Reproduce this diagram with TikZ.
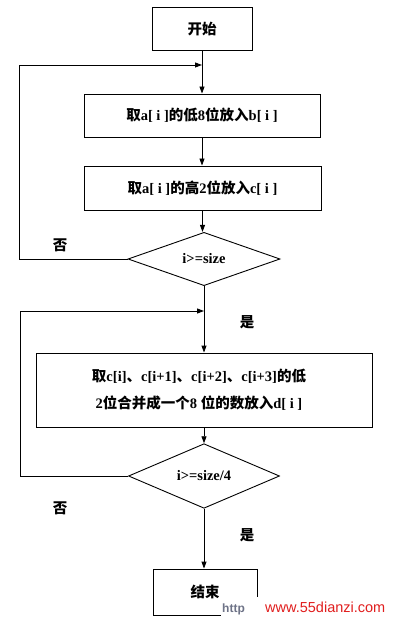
\documentclass[tikz,border=0pt]{standalone}
\usepackage{fontspec}
\setmainfont{Liberation Serif}
\newfontfamily\cjk{Noto Sans CJK SC}
\newfontfamily\wmfont{Liberation Sans}
\usetikzlibrary{shapes.geometric,arrows.meta}
\newcommand\zh[1]{{\cjk\bfseries #1}}
\definecolor{wmred}{RGB}{225,30,30}
\definecolor{wmgray}{RGB}{110,115,135}
\begin{document}
\begin{tikzpicture}[x=1pt,y=-1pt,
  every node/.style={font=\fontsize{14.5}{17}\selectfont\bfseries},
  procbox/.style={draw,line width=0.9pt,rectangle,inner sep=0pt},
  decbox/.style={draw,line width=0.9pt,diamond,inner sep=0pt},
  conn/.style={line width=0.9pt},
  arr/.style={conn,-{Triangle[width=5pt,length=7pt]}},
  lbl/.style={inner sep=0pt}]
\useasboundingbox (0,0) rectangle (400,620);
\fill[white] (0,0) rectangle (400,620);

\node[procbox,minimum width=100pt,minimum height=43pt] (start) at (202,29) {\zh{开始}};
\node[procbox,minimum width=236pt,minimum height=43pt] (b1) at (202,115.5) {\zh{取}a[ i ]\zh{的低}8\zh{位放入}b[ i ]};
\node[procbox,minimum width=237pt,minimum height=44pt] (b2) at (202.5,188) {\zh{取}a[ i ]\zh{的高}2\zh{位放入}c[ i ]};
\node[decbox,minimum width=152pt,minimum height=44pt] (d1) at (204,259) {i>=size};
\node[procbox,minimum width=336pt,minimum height=74pt,align=center,font=\fontsize{14.5}{27}\selectfont\bfseries] (b3) at (204,390)
  {\hspace*{-10pt}\zh{取}c[i]\zh{、}c[i+1]\zh{、}c[i+2]\zh{、}c[i+3]\zh{的低}\\\hspace*{-10pt}2\zh{位合并成一个}8 \zh{位的数放入}d[ i ]};
\node[decbox,minimum width=151pt,minimum height=45pt] (d2) at (204,476) {i>=size/4};
\node[procbox,minimum width=104pt,minimum height=46pt] (end) at (205,592) {\zh{结束}};

\coordinate (j1) at (start.south |- 0,65);
\coordinate (l1a) at (19,0 |- d1.west);
\coordinate (l1b) at (19,65);
\coordinate (j2) at (d1.south |- 0,311);
\coordinate (l2a) at (20,0 |- d2.west);
\coordinate (l2b) at (20,311);

\draw[arr] (start.south) -- (start.south |- b1.north);
\draw[arr] (d1.west) -- (l1a) -- (l1b) -- (j1);
\draw[arr] (b1) -- (b1.south |- b2.north);
\draw[arr] (b2) -- (b2.south |- d1.north);
\draw[arr] (d1.south) -- (d1.south |- b3.north);
\draw[arr] (d2.west) -- (l2a) -- (l2b) -- (j2);
\draw[arr] (b3.south -| d2.north) -- (d2.north);
\draw[arr] (d2.south) -- (d2.south |- end.north);

\node[lbl] (no1) at (60,245) {\zh{否}};
\node[lbl] (yes1) at (247,322) {\zh{是}};
\node[lbl] (no2) at (60,508) {\zh{否}};
\node[lbl] (yes2) at (247,535) {\zh{是}};

\fill[white] (221,597) rectangle (262,620);
\node[lbl,anchor=base west,text=wmgray,font=\wmfont\bfseries\fontsize{12}{14}\selectfont] (wm1) at (222,612) {http};
\node[lbl,anchor=base west,text=wmred,font=\wmfont\fontsize{14.5}{16}\selectfont] (wm2) at (265,612) {www.55dianzi.com};
\end{tikzpicture}
\end{document}
